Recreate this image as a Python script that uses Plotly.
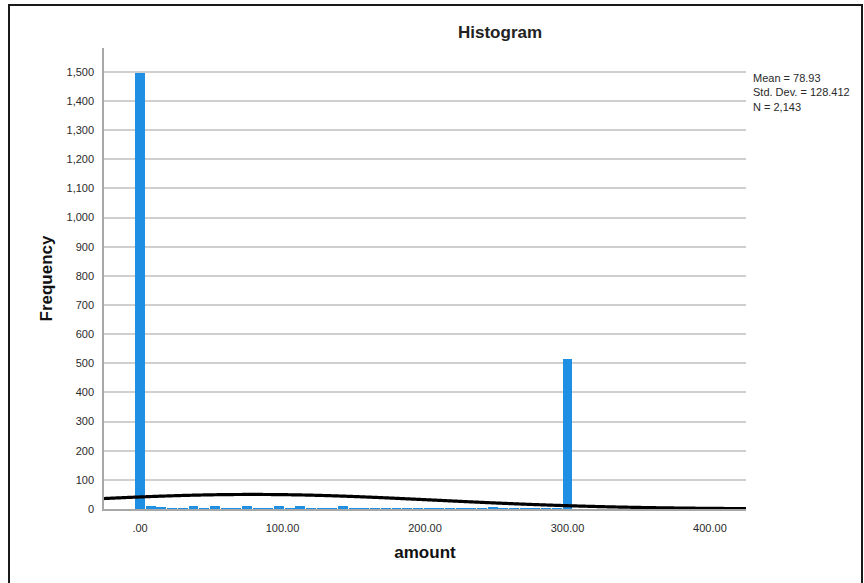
import numpy as np
import plotly.graph_objects as go

# Histogram of "amount": bin centres (width 7.5) and frequencies
bin_width = 7.5
bin_centers = [0.0, 7.5, 15.0, 22.5, 30.0, 37.5, 45.0, 52.5, 60.0, 67.5, 75.0,
               82.5, 90.0, 97.5, 105.0, 112.5, 120.0, 127.5, 135.0, 142.5, 150.0,
               157.5, 165.0, 172.5, 180.0, 187.5, 195.0, 202.5, 210.0, 217.5,
               225.0, 232.5, 240.0, 247.5, 255.0, 262.5, 270.0, 277.5, 285.0,
               292.5, 300.0]
frequencies = [1495, 11, 5, 2, 2, 9, 2, 10, 2, 2, 9,
               1, 2, 9, 2, 10, 1, 1, 2, 9, 3,
               2, 1, 2, 2, 1, 2, 2, 1, 2,
               2, 1, 3, 8, 1, 1, 2, 1, 1,
               2, 515]

# Summary statistics shown beside the plot
mean_val = 78.93
std_val = 128.412
n_val = 2143
stats_lines = ["Mean = 78.93", "Std. Dev. = 128.412", "N = 2,143"]

x_tickvals = [0, 100, 200, 300, 400]
x_ticktext = [".00", "100.00", "200.00", "300.00", "400.00"]
y_tickvals = list(range(0, 1600, 100))

x_range = [-25.3, 425.3]
y_range = [0, 1582]

# Normal curve scaled to the histogram counts
xc = np.linspace(x_range[0], x_range[1], 600)
yc = n_val * bin_width * np.exp(-0.5 * ((xc - mean_val) / std_val) ** 2) / (std_val * np.sqrt(2 * np.pi))

fig = go.Figure()
fig.add_trace(go.Bar(
    x=bin_centers, y=frequencies, width=bin_width * 0.93,
    marker=dict(color="#1f8fe3", line=dict(width=0)),
    showlegend=False, hoverinfo="x+y",
))
fig.add_trace(go.Scatter(
    x=xc, y=yc, mode="lines", line=dict(color="black", width=3.2, shape="spline"),
    showlegend=False, hoverinfo="skip",
))

L, R, T, B = 104, 118, 48, 74
W, H = 864, 583
pw, ph = W - L - R, H - T - B

def px(xp):
    return (xp - L) / pw

def py(yp):
    return (H - B - yp) / ph

font_main = "Liberation Sans, Arial, sans-serif"

fig.update_layout(
    width=W, height=H,
    margin=dict(l=L, r=R, t=T, b=B, pad=0),
    paper_bgcolor="white", plot_bgcolor="white",
    bargap=0,
    font=dict(family=font_main, size=11, color="#2a2a2a"),
    xaxis=dict(
        range=x_range, tickvals=x_tickvals, ticktext=x_ticktext,
        showgrid=False, zeroline=False,
        showline=True, linecolor="#a8a8a8", linewidth=1.5,
        ticks="outside", ticklen=8, tickcolor="rgba(0,0,0,0)",
        tickfont=dict(size=11, color="#2a2a2a"),
        title=dict(text="<b>amount</b>", font=dict(size=17, color="#111111"), standoff=13),
    ),
    yaxis=dict(
        range=y_range, tickvals=y_tickvals, tickformat=",d",
        showgrid=True, gridcolor="#cfcfcf", gridwidth=1.5,
        zeroline=False,
        showline=True, linecolor="#a8a8a8", linewidth=1.5,
        ticks="outside", ticklen=6, tickcolor="rgba(0,0,0,0)",
        tickfont=dict(size=11, color="#2a2a2a"),
        title=dict(text="<b>Frequency</b>", font=dict(size=17, color="#111111"), standoff=10),
    ),
    shapes=[dict(
        type="rect", xref="paper", yref="paper",
        x0=px(9), x1=px(862), y0=py(600), y1=py(5),
        line=dict(color="#1a1a1a", width=2), fillcolor="rgba(0,0,0,0)",
        layer="above",
    )],
)

fig.add_annotation(
    text="<b>Histogram</b>", xref="paper", yref="paper",
    x=px(500), y=py(33), xanchor="center", yanchor="middle",
    showarrow=False, font=dict(size=17, color="#222222"),
)
fig.add_annotation(
    text="<br>".join(stats_lines), xref="paper", yref="paper",
    x=px(751), y=py(70), xanchor="left", yanchor="top", align="left",
    showarrow=False, font=dict(size=11, color="#2a2a2a"),
)

fig.write_html("out.html")
